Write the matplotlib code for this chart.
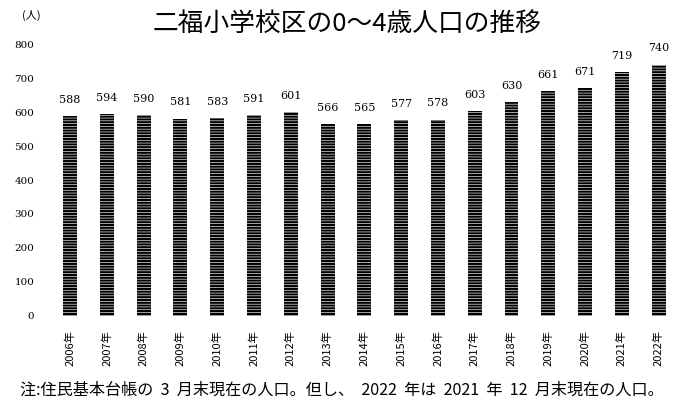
import matplotlib.pyplot as plt

plt.rcParams['font.family'] = ['Noto Sans CJK JP', 'DejaVu Sans']
plt.rcParams['hatch.linewidth'] = 0.45

# data
years = ['2006年', '2007年', '2008年', '2009年', '2010年', '2011年', '2012年', '2013年', '2014年',
         '2015年', '2016年', '2017年', '2018年', '2019年', '2020年', '2021年', '2022年']
population = [588, 594, 590, 581, 583, 591, 601, 566, 565, 577, 578, 603, 630, 661, 671, 719, 740]
y_ticks = [0, 100, 200, 300, 400, 500, 600, 700, 800]

fig = plt.figure(figsize=(6.77, 4.05), dpi=100)
ax = fig.add_axes([0.071, 0.22, 0.929, 0.671])

x = range(len(years))
bars = ax.bar(x, population, width=0.38, color='black', edgecolor='white',
              linewidth=0, hatch='------')

for xi, v in zip(x, population):
    ax.annotate(str(v), (xi, v), xytext=(0, 8), textcoords='offset points',
                ha='center', va='bottom', fontsize=8, family='DejaVu Serif')

ax.set_xlim(-0.6, 16.5)
ax.set_ylim(0, 800)
ax.set_yticks(y_ticks)
ax.set_yticklabels([str(t) for t in y_ticks], family='DejaVu Serif', fontsize=7.5)
ax.set_xticks(list(x))
ax.set_xticklabels(years, rotation=90, fontsize=8, va='top')
ax.tick_params(length=0, pad=10)
for s in ax.spines.values():
    s.set_visible(False)

fig.text(0.512, 0.942, '二福小学校区の0～4歳人口の推移', ha='center', va='center', fontsize=18.5)
fig.text(0.032, 0.962, '(人)', ha='left', va='center', fontsize=8)
fig.text(0.03, 0.037, '注:住民基本台帳の  3  月末現在の人口。但し、  2022  年は  2021  年  12  月末現在の人口。',
         ha='left', va='center', fontsize=11.6)

fig.savefig('out.png', dpi=100)
